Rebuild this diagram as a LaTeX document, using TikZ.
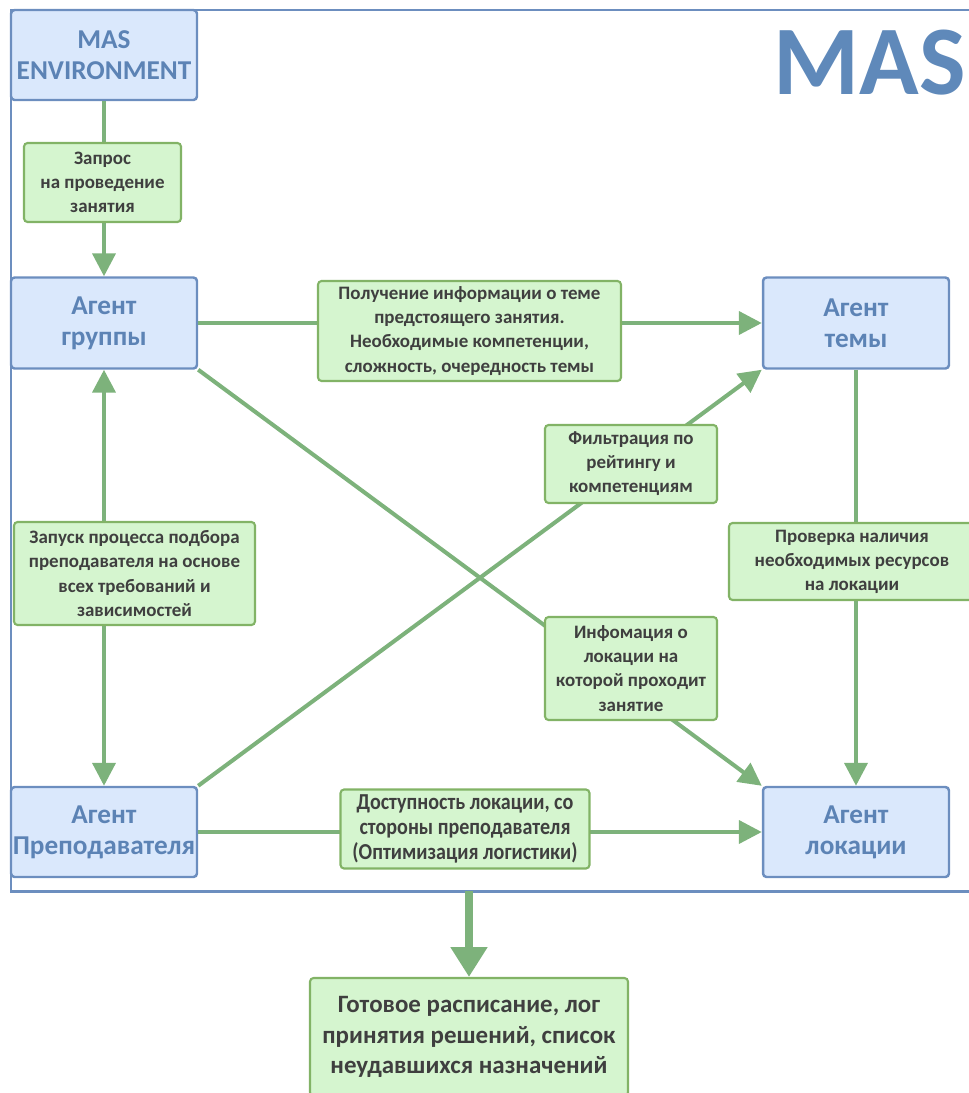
\documentclass[tikz,border=0pt]{standalone}
\usepackage{fontspec}
\setmainfont{Carlito}
\newfontfamily\narrowfont[FakeStretch=0.88]{Carlito}
\usetikzlibrary{arrows.meta}

\definecolor{agentblue}{HTML}{6C8EBF}
\definecolor{agentfill}{HTML}{DAE8FC}
\definecolor{agenttext}{HTML}{5C83B5}
\definecolor{titleblue}{HTML}{5F89BA}
\definecolor{msgfill}{HTML}{D5F5CF}
\definecolor{msgdraw}{HTML}{82B366}
\definecolor{msgtext}{HTML}{3F3F3F}
\definecolor{flowgreen}{HTML}{7DB27B}

\tikzset{
  agent/.style={draw=agentblue, fill=agentfill, line width=1.4pt, rounded corners=2pt,
    minimum width=3.72cm, minimum height=1.82cm, inner sep=0pt, align=center,
    text=agenttext, font=\fontsize{15.5}{17.8}\selectfont\bfseries},
  msg/.style={draw=msgdraw, fill=msgfill, line width=1.2pt, rounded corners=2pt,
    inner sep=0pt, align=center, text=msgtext, font=\fontsize{10.8}{13.7}\selectfont\bfseries},
  flow/.style={draw=flowgreen, line width=2.3pt, ->},
  bigflow/.style={draw=flowgreen, line width=4.5pt, -{Triangle[length=17pt,width=20pt]}},
}

\begin{document}
\begin{tikzpicture}[x=0.02cm, y=-0.02cm, >={Triangle[length=13pt,width=13pt]}]
\useasboundingbox (0,0) rectangle (969,1093);
\clip (0,0) rectangle (969,1093);

% MAS frame
\draw[agentblue, line width=1.7pt] (980,10) -- (11,10) -- (11,891) -- (980,891);
\node[text=titleblue, font=\fontsize{56}{60}\selectfont\bfseries, inner sep=0pt] (title) at (870,63) {MAS};

% agents
\node[agent, minimum height=1.8cm] (env) at (104,55) {MAS\\ENVIRONMENT};
\node[agent] (grp) at (104,323) {Агент\\группы};
\node[agent] (tem) at (856,323) {Агент\\темы};
\node[agent, minimum height=1.8cm] (prep) at (104,832) {Агент\\Преподавателя};
\node[agent, minimum height=1.8cm] (loc) at (856,832) {Агент\\локации};

% connectors
\draw[flow] (env) -- (grp);
\draw[flow] (grp) -- (tem);
\draw[flow, <->] (grp) -- (prep);
\draw[flow] (grp.south east) -- (loc.north west);
\draw[flow] (prep.north east) -- (tem.south west);
\draw[flow] (tem) -- (loc);
\draw[flow] (prep) -- (loc);

% messages
\node[msg, minimum width=3.14cm, minimum height=1.58cm] (req) at (102.5,182.5) {Запрос\\на проведение\\занятия};
\node[msg, minimum width=6.06cm, minimum height=2.0cm] (info) at (469.5,331) {Получение информации о теме\\предстоящего занятия.\\Необходимые компетенции,\\сложность, очередность темы};
\node[msg, minimum width=3.44cm, minimum height=1.56cm] (filt) at (631,464) {Фильтрация по\\рейтингу и\\компетенциям};
\node[msg, minimum width=3.44cm, minimum height=2.06cm] (locinfo) at (631,668.5) {Инфомация о\\локации на\\которой проходит\\занятие};
\node[msg, minimum width=4.92cm, minimum height=1.54cm] (rescheck) at (852,561.5) {Проверка наличия\\необходимых ресурсов\\на локации};
\node[msg, minimum width=4.82cm, minimum height=2.06cm] (launch) at (134.5,573.5) {Запуск процесса подбора\\преподавателя на основе\\всех требований и\\зависимостей};
\node[msg, minimum width=4.98cm, minimum height=1.58cm, font=\fontsize{13}{14.2}\selectfont\narrowfont\bfseries] (avail) at (465,829) {Доступность локации, со\\стороны преподавателя\\(Оптимизация логистики)};

% result
\node[msg, minimum width=6.36cm, minimum height=2.36cm, font=\fontsize{14.2}{17.4}\selectfont\bfseries] (res) at (469,1037) {Готовое расписание, лог\\принятия решений, список\\неудавшихся назначений};
\coordinate (out) at (469,891);
\draw[bigflow] (out) -- (res.north);
\end{tikzpicture}
\end{document}
